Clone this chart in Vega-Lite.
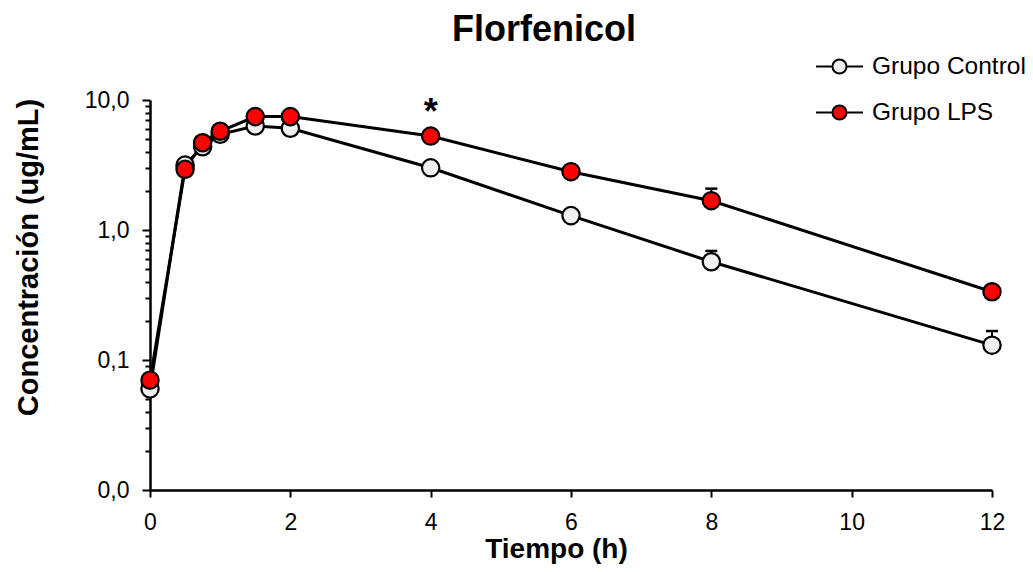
{
  "$schema": "https://vega.github.io/schema/vega-lite/v6.json",
  "width": 842,
  "height": 390,
  "autosize": "none",
  "padding": {"left": 150, "top": 100, "right": 41, "bottom": 82},
  "background": "white",
  "config": {
    "font": "Liberation Sans",
    "view": {"stroke": null}
  },
  "title": {
    "text": "Florfenicol",
    "font": "Liberation Sans",
    "fontSize": 36,
    "fontWeight": "bold",
    "color": "black",
    "anchor": "middle",
    "frame": "group",
    "dx": -27,
    "dy": 15,
    "offset": 8
  },
  "datasets": {
    "pk": [
      {"t": 0, "grupo": "Grupo Control", "c": 0.06},
      {"t": 0.5, "grupo": "Grupo Control", "c": 3.16},
      {"t": 0.75, "grupo": "Grupo Control", "c": 4.37},
      {"t": 1, "grupo": "Grupo Control", "c": 5.45},
      {"t": 1.5, "grupo": "Grupo Control", "c": 6.31},
      {"t": 2, "grupo": "Grupo Control", "c": 6.06},
      {"t": 4, "grupo": "Grupo Control", "c": 3.01},
      {"t": 6, "grupo": "Grupo Control", "c": 1.29},
      {"t": 8, "grupo": "Grupo Control", "c": 0.57},
      {"t": 12, "grupo": "Grupo Control", "c": 0.13},
      {"t": 0, "grupo": "Grupo LPS", "c": 0.07},
      {"t": 0.5, "grupo": "Grupo LPS", "c": 2.93},
      {"t": 0.75, "grupo": "Grupo LPS", "c": 4.69},
      {"t": 1, "grupo": "Grupo LPS", "c": 5.75},
      {"t": 1.5, "grupo": "Grupo LPS", "c": 7.45},
      {"t": 2, "grupo": "Grupo LPS", "c": 7.45},
      {"t": 4, "grupo": "Grupo LPS", "c": 5.28},
      {"t": 6, "grupo": "Grupo LPS", "c": 2.81},
      {"t": 8, "grupo": "Grupo LPS", "c": 1.68},
      {"t": 12, "grupo": "Grupo LPS", "c": 0.335}
    ],
    "err": [
      {"t": 8, "grupo": "Grupo Control", "c": 0.57, "hi": 0.69},
      {"t": 12, "grupo": "Grupo Control", "c": 0.13, "hi": 0.167},
      {"t": 8, "grupo": "Grupo LPS", "c": 1.68, "hi": 2.08}
    ],
    "sig": [
      {"t": 4, "c": 5.28, "label": "*"}
    ],
    "minor": [{"v": 0.02},{"v": 0.03},{"v": 0.04},{"v": 0.05},{"v": 0.06},{"v": 0.07},{"v": 0.08},{"v": 0.09},{"v": 0.2},{"v": 0.3},{"v": 0.4},{"v": 0.5},{"v": 0.6},{"v": 0.7},{"v": 0.8},{"v": 0.9},{"v": 2},{"v": 3},{"v": 4},{"v": 5},{"v": 6},{"v": 7},{"v": 8},{"v": 9}]
  },
  "resolve": {"axis": {"y": "independent"}},
  "layer": [
    {
      "data": {"name": "pk"},
      "layer": [
        {
          "data": {"name": "err"},
          "mark": {"type": "rule", "color": "black", "strokeWidth": 2},
          "encoding": {
            "x": {"field": "t", "type": "quantitative"},
            "y": {"field": "c", "type": "quantitative"},
            "y2": {"field": "hi"}
          }
        },
        {
          "data": {"name": "err"},
          "mark": {"type": "tick", "orient": "horizontal", "color": "black", "size": 12, "thickness": 2.5, "opacity": 1},
          "encoding": {
            "x": {"field": "t", "type": "quantitative"},
            "y": {"field": "hi", "type": "quantitative"}
          }
        },
        {
          "mark": {"type": "line", "color": "black", "strokeWidth": 3},
          "encoding": {
            "x": {"field": "t", "type": "quantitative"},
            "y": {"field": "c", "type": "quantitative"},
            "detail": {"field": "grupo"}
          }
        },
        {
          "mark": {"type": "point", "shape": "circle", "filled": true, "size": 300, "stroke": "black", "strokeWidth": 2.2, "opacity": 1},
          "encoding": {
            "x": {
              "field": "t", "type": "quantitative",
              "scale": {"domain": [0, 12], "nice": false},
              "axis": {
                "values": [0, 2, 4, 6, 8, 10, 12],
                "format": "d",
                "labelFlush": false,
                "title": "Tiempo (h)",
                "titleFont": "Liberation Sans", "titleFontSize": 28, "titleFontWeight": "bold", "titleColor": "black",
                "titleX": 406, "titleY": 45, "titleBaseline": "top", "titleAnchor": "middle",
                "labelFont": "Liberation Sans", "labelFontSize": 23, "labelColor": "black", "labelPadding": 14,
                "tickSize": 7, "tickWidth": 2, "tickColor": "black",
                "domainColor": "black", "domainWidth": 2.5, "grid": false
              }
            },
            "y": {
              "field": "c", "type": "quantitative",
              "scale": {"type": "log", "domain": [0.01, 10], "nice": false},
              "axis": {
                "orient": "left",
                "values": [0.01, 0.1, 1, 10],
                "labelFlush": false,
                "labelExpr": "replace(format(datum.value, '.1f'), '.', ',')",
                "title": "Concentración (ug/mL)",
                "titleFont": "Liberation Sans", "titleFontSize": 29, "titleFontWeight": "bold", "titleColor": "black",
                "titleX": -122, "titleY": 157, "titleAngle": -90, "titleBaseline": "middle", "titleAnchor": "middle",
                "labelFont": "Liberation Sans", "labelFontSize": 23, "labelColor": "black", "labelPadding": 13,
                "tickSize": 8, "tickWidth": 2, "tickColor": "black",
                "domainColor": "black", "domainWidth": 2.5, "grid": false
              }
            },
            "fill": {
              "field": "grupo", "type": "nominal",
              "scale": {"domain": ["Grupo Control", "Grupo LPS"], "range": ["#f0f0f0", "#ff0000"]},
              "legend": {
                "title": null,
                "orient": "none",
                "legendX": 665,
                "legendY": -58,
                "padding": 0,
                "rowPadding": 10,
                "symbolType": "M-1,0L-0.3,0M0.3,0L1,0M-0.3,0A0.3,0.3,0,1,1,0.3,0A0.3,0.3,0,1,1,-0.3,0Z",
                "symbolSize": 2209,
                "symbolStrokeColor": "black",
                "symbolStrokeWidth": 2,
                "symbolOpacity": 1,
                "labelFont": "Liberation Sans",
                "labelFontSize": 24.5,
                "labelColor": "black",
                "labelOffset": 8,
                "labelLimit": 300
              }
            }
          }
        },
        {
          "data": {"name": "sig"},
          "mark": {"type": "text", "font": "Liberation Sans", "fontSize": 36, "fontWeight": "bold", "color": "black", "baseline": "alphabetic", "dy": -12},
          "encoding": {
            "x": {"field": "t", "type": "quantitative"},
            "y": {"field": "c", "type": "quantitative"},
            "text": {"field": "label"}
          }
        }
      ]
    },
    {
      "data": {"name": "minor"},
      "mark": {"type": "tick", "opacity": 0},
      "encoding": {
        "y": {
          "field": "v", "type": "quantitative",
          "axis": {
            "orient": "left",
            "values": [0.02,0.03,0.04,0.05,0.06,0.07,0.08,0.09,0.2,0.3,0.4,0.5,0.6,0.7,0.8,0.9,2,3,4,5,6,7,8,9],
            "labels": false, "domain": false, "grid": false,
            "tickSize": 5, "tickWidth": 2, "tickColor": "black", "title": null
          }
        }
      }
    }
  ]
}
